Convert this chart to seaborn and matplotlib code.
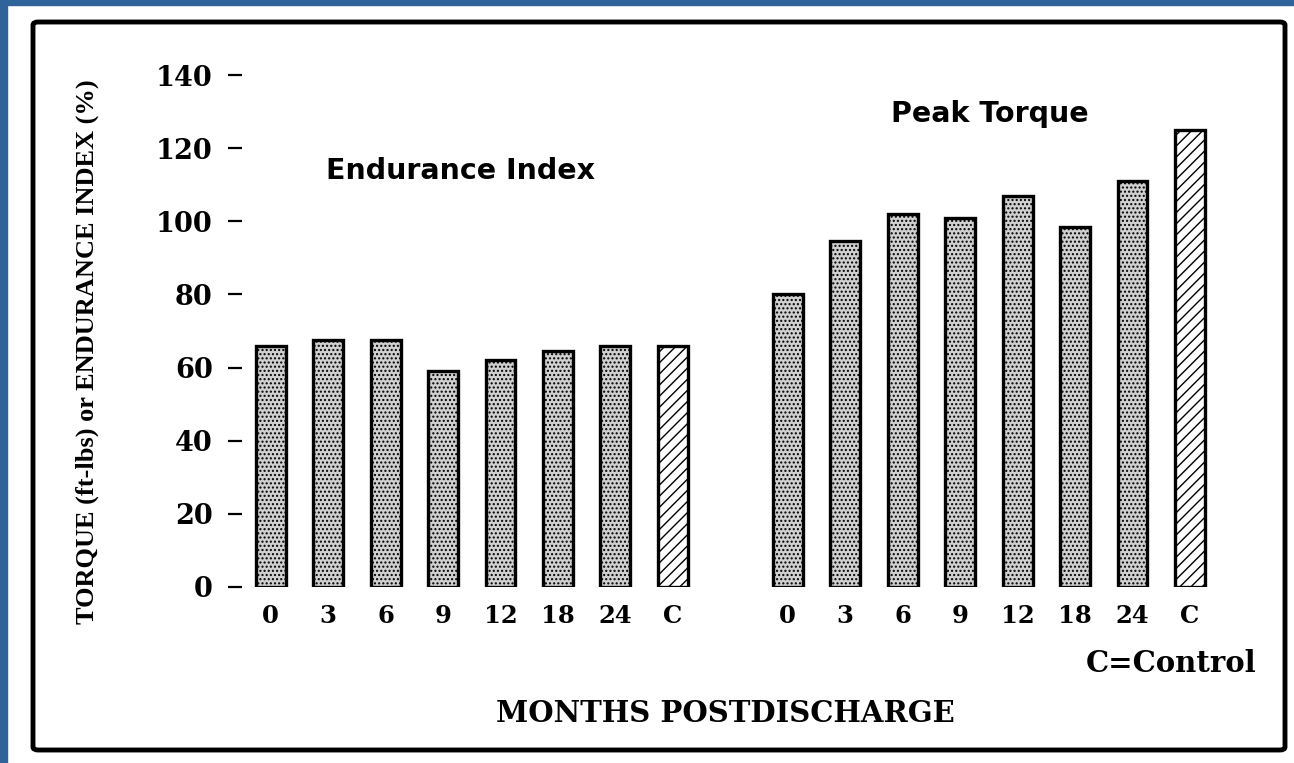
import pandas as pd
import seaborn as sns
import matplotlib.pyplot as plt
from matplotlib.patches import FancyBboxPatch, Rectangle

# datos
months = ['0', '3', '6', '9', '12', '18', '24', 'C']
endurance = [66, 67.5, 67.5, 59, 62, 64.5, 66, 66]
peak_torque = [80, 94.5, 102, 101, 107, 98.5, 111, 125]

# posiciones: 0..7 grupo izquierdo, 9..16 grupo derecho
pos_left = list(range(0, 8))
pos_right = list(range(9, 17))

df = pd.DataFrame({
    'pos': pos_left + pos_right,
    'value': endurance + peak_torque,
    'label': months + months,
})
df['control'] = df['label'] == 'C'

sns.set_style('white')
plt.rcParams['hatch.linewidth'] = 1.0
plt.rcParams['text.color'] = 'black'
plt.rcParams['xtick.color'] = 'black'
plt.rcParams['ytick.color'] = 'black'

fig = plt.figure(figsize=(12.94, 7.63), dpi=100)
fig.patch.set_facecolor('white')
ax = fig.add_axes([0.187, 0.2307, 0.7548, 0.671])

sns.barplot(data=df, x='pos', y='value', native_scale=True, width=0.52,
            color='#d0d0d0', edgecolor='black', linewidth=2.4, ax=ax)

# punteado gris para los meses, rayado para el control
order = df.sort_values('pos').reset_index(drop=True)
for patch, is_ctrl in zip(ax.patches, order['control']):
    if is_ctrl:
        patch.set_facecolor('white')
        patch.set_hatch('///')
    else:
        patch.set_facecolor('#d0d0d0')
        patch.set_hatch('....')

ax.set_xlim(-0.5, 16.5)
ax.set_ylim(0, 140)
ax.set_xticks(df['pos'])
ax.set_xticklabels(df['label'], fontfamily='DejaVu Serif', fontweight='bold', fontsize=17.5)
ax.set_yticks(range(0, 141, 20))
ax.set_yticklabels([str(v) for v in range(0, 141, 20)],
                   fontfamily='DejaVu Serif', fontweight='bold', fontsize=19.5)
ax.tick_params(axis='x', length=0, pad=12)
ax.tick_params(axis='y', length=10, width=1.6, pad=11, direction='out', left=True)
for s in ax.spines.values():
    s.set_visible(False)
ax.set_xlabel('')
ax.set_ylabel('')

ax.text(3.3, 113.8, 'Endurance Index', ha='center', va='center',
        fontfamily='DejaVu Sans', fontweight='bold', fontsize=20.5)
ax.text(12.52, 129.3, 'Peak Torque', ha='center', va='center',
        fontfamily='DejaVu Sans', fontweight='bold', fontsize=20.5)

fig.text(0.0672, 0.5387, 'TORQUE (ft-lbs) or ENDURANCE INDEX (%)', rotation=90,
         ha='center', va='center', fontfamily='Liberation Serif', fontweight='bold', fontsize=19)
fig.text(0.5603, 0.0655, 'MONTHS POSTDISCHARGE', ha='center', va='center',
         fontfamily='DejaVu Serif', fontweight='bold', fontsize=21)
fig.text(0.9714, 0.131, 'C=Control', ha='right', va='center',
         fontfamily='DejaVu Serif', fontweight='bold', fontsize=21)

# marco negro y borde azul
W, H = 1294, 763
fig.patches.append(FancyBboxPatch((33 / W, 1 - 750 / H), (1285 - 33) / W, (750 - 22) / H,
                                  boxstyle='round,pad=0,rounding_size=0.004',
                                  transform=fig.transFigure, fill=False,
                                  edgecolor='black', linewidth=3.5))
fig.patches.append(Rectangle((0, 0), 7 / W, 1, transform=fig.transFigure,
                             color='#2f6399', zorder=10))
fig.patches.append(Rectangle((0, 1 - 5 / H), 1, 5 / H, transform=fig.transFigure,
                             color='#2f6399', zorder=10))

fig.savefig('out.png', dpi=100)
